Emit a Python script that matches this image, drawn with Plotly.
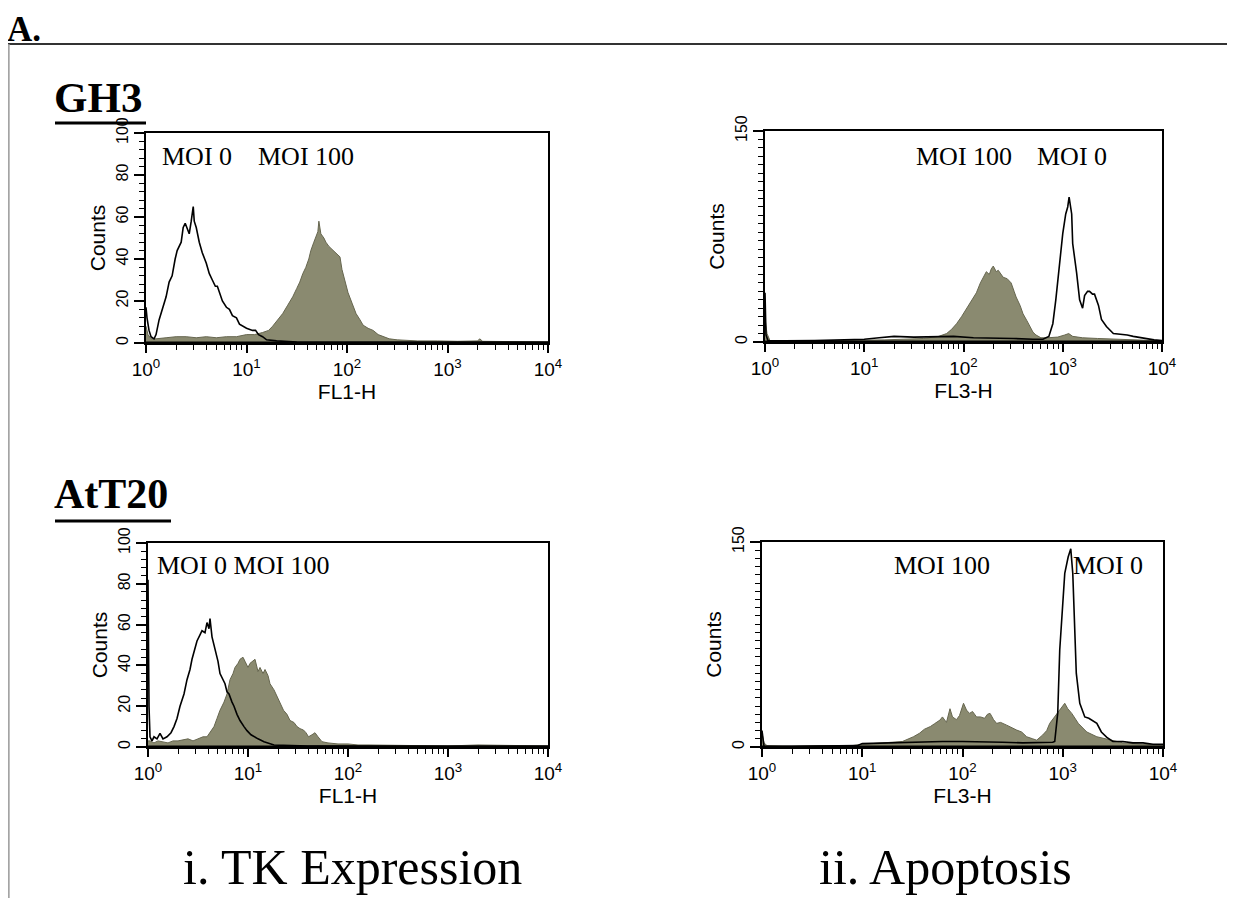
import numpy as np
import plotly.graph_objects as go

W, H = 1235, 898
OFF = 8  # page body margin of the browser

# ---------------- data (log10 fluorescence positions, counts) ----------------
# GH3 - TK expression (FL1-H)
gh3_tk_moi0_log = [0.00, 0.01, 0.03, 0.05, 0.08, 0.10, 0.13, 0.16, 0.20, 0.23, 0.26, 0.29, 0.31, 0.35, 0.37, 0.39, 0.41, 0.43, 0.45, 0.47, 0.48, 0.50, 0.53, 0.56, 0.60, 0.63, 0.66, 0.69, 0.71, 0.74, 0.76, 0.80, 0.83, 0.86, 0.90, 0.93, 0.96, 1.00, 1.06, 1.09, 1.12, 1.16, 1.20, 1.30, 1.50, 1.80, 2.20, 2.60, 3.00, 3.40, 3.80, 4.00]
gh3_tk_moi0_cnt = [17, 12, 6, 3, 2, 4, 11, 16, 22, 29, 32, 40, 44, 48, 55, 57, 54, 52, 58, 65, 58, 55, 48, 43, 38, 33, 30, 27, 27, 23, 20, 17, 16, 13, 12, 9, 8, 7, 6, 6, 4, 3, 1.5, 1, 0.5, 0.5, 0.3, 0.3, 0.3, 0.3, 0.3, 0.3]
gh3_tk_moi100_log = [0.00, 0.02, 0.05, 0.10, 0.20, 0.30, 0.40, 0.50, 0.60, 0.70, 0.80, 0.90, 1.00, 1.08, 1.16, 1.22, 1.26, 1.31, 1.36, 1.41, 1.46, 1.50, 1.53, 1.56, 1.59, 1.62, 1.64, 1.67, 1.69, 1.71, 1.72, 1.74, 1.77, 1.79, 1.82, 1.86, 1.89, 1.93, 1.95, 1.98, 2.01, 2.05, 2.09, 2.13, 2.16, 2.21, 2.26, 2.31, 2.36, 2.42, 2.50, 2.70, 2.90, 3.10, 3.30, 3.32, 3.35, 3.50, 3.70, 3.90, 4.00]
gh3_tk_moi100_cnt = [8, 4, 2, 2, 2.5, 3, 3, 2.5, 3, 2.5, 3, 3, 4, 4, 5, 6, 8, 11, 14, 18, 22, 26, 29, 33, 36, 40, 44, 48, 51, 53, 58, 52, 50, 48, 46, 44, 43, 41, 35, 30, 24, 19, 14, 11, 8.5, 7, 6, 4, 3, 2, 1.5, 1, 1, 0.8, 1, 2, 0.8, 0.8, 0.6, 0.6, 0.5]

# GH3 - Apoptosis (FL3-H)
gh3_ap_moi0_log = [0.00, 0.01, 0.03, 0.20, 0.50, 0.80, 1.00, 1.15, 1.30, 1.50, 1.70, 1.90, 2.10, 2.30, 2.50, 2.70, 2.80, 2.86, 2.90, 2.93, 2.95, 2.98, 3.00, 3.03, 3.05, 3.064, 3.08, 3.09, 3.10, 3.12, 3.14, 3.17, 3.20, 3.22, 3.25, 3.27, 3.30, 3.32, 3.36, 3.39, 3.44, 3.51, 3.58, 3.65, 3.71, 3.78, 3.85, 3.92, 4.00]
gh3_ap_moi0_cnt = [35, 5, 1, 0.8, 1, 1.5, 2, 3, 4, 3.5, 4, 4, 3, 3, 2.5, 2, 2, 4, 13, 30, 44, 62, 77, 91, 96, 103, 95, 91, 70, 60, 49, 30, 24, 33, 36, 36, 34, 34, 26, 16, 11, 6, 5.5, 5, 4, 3, 2, 1.5, 1]
gh3_ap_moi100_log = [0.00, 0.02, 0.05, 0.30, 0.60, 0.90, 1.20, 1.40, 1.60, 1.75, 1.83, 1.88, 1.93, 1.98, 2.03, 2.08, 2.13, 2.17, 2.20, 2.23, 2.26, 2.28, 2.30, 2.33, 2.35, 2.38, 2.40, 2.44, 2.48, 2.51, 2.53, 2.57, 2.60, 2.64, 2.67, 2.70, 2.73, 2.78, 2.85, 2.95, 3.02, 3.06, 3.10, 3.20, 3.35, 3.50, 3.70, 3.90, 4.00]
gh3_ap_moi100_cnt = [17, 6, 1, 0.5, 1, 1, 1.5, 2, 2.5, 4, 6, 9, 13, 18, 24, 29, 35, 42, 46, 50, 48, 52, 54, 50, 51, 48, 46, 45, 42, 36, 32, 26, 20, 15, 11, 7, 5, 3, 3, 3.5, 5, 6, 4, 3, 2.5, 2, 1.5, 1, 0.8]

# AtT20 - TK expression (FL1-H)
att_tk_moi0_log = [0.00, 0.01, 0.02, 0.04, 0.06, 0.09, 0.12, 0.15, 0.19, 0.23, 0.26, 0.29, 0.32, 0.36, 0.39, 0.42, 0.44, 0.47, 0.49, 0.52, 0.54, 0.57, 0.59, 0.61, 0.62, 0.64, 0.66, 0.67, 0.70, 0.72, 0.75, 0.77, 0.79, 0.81, 0.84, 0.86, 0.89, 0.92, 0.96, 0.99, 1.03, 1.06, 1.10, 1.16, 1.22, 1.26, 1.35, 1.60, 2.00, 2.50, 3.00, 3.50, 4.00]
att_tk_moi0_cnt = [82, 20, 5, 3, 5, 4, 6.7, 4, 5, 7, 10, 14, 20, 26, 33, 38, 43, 48, 52, 55, 57, 56, 61, 58, 63, 54, 50, 47.5, 42, 36, 33, 31, 27, 26, 22, 20, 16, 13, 10, 8, 6, 5, 4, 2.6, 1.5, 1, 0.8, 0.5, 0.5, 0.3, 0.3, 0.3, 0.3]
att_tk_moi100_log = [0.00, 0.02, 0.06, 0.10, 0.15, 0.20, 0.25, 0.30, 0.35, 0.40, 0.45, 0.50, 0.55, 0.59, 0.63, 0.66, 0.69, 0.72, 0.76, 0.79, 0.82, 0.85, 0.87, 0.90, 0.92, 0.95, 0.97, 1.00, 1.02, 1.05, 1.07, 1.10, 1.12, 1.15, 1.17, 1.20, 1.22, 1.26, 1.29, 1.32, 1.355, 1.39, 1.42, 1.46, 1.49, 1.52, 1.555, 1.58, 1.605, 1.64, 1.67, 1.70, 1.74, 1.80, 1.90, 2.00, 2.10, 2.20, 2.50, 3.00, 3.30, 3.50, 3.70, 4.00]
att_tk_moi100_cnt = [3, 3, 2, 3, 2.5, 2, 3, 3, 3.5, 4, 3, 4, 5, 5, 8, 10, 14, 18, 22, 26, 33, 36, 39, 41, 43, 44, 42, 39, 41, 42, 43, 37, 39, 36, 38, 35, 31, 28, 25, 22, 18, 16, 13, 12, 10, 9, 8.3, 7, 5, 6, 7, 5, 2.6, 2, 1.5, 1.5, 1, 1, 0.7, 0.5, 1, 0.8, 0.5, 0.5]

# AtT20 - Apoptosis (FL3-H)
att_ap_moi0_log = [0.00, 0.01, 0.02, 0.20, 0.50, 0.80, 0.95, 1.00, 1.20, 1.40, 1.60, 1.80, 2.00, 2.20, 2.40, 2.60, 2.80, 2.90, 2.92, 2.95, 2.97, 3.00, 3.02, 3.054, 3.08, 3.10, 3.12, 3.135, 3.17, 3.22, 3.26, 3.29, 3.34, 3.385, 3.44, 3.50, 3.60, 3.70, 3.80, 3.90, 4.00]
att_ap_moi0_cnt = [12, 3, 0.5, 0.3, 0.5, 0.5, 1, 2.5, 3, 3.5, 4, 4, 4, 4, 3.5, 3, 3, 3.5, 4, 25, 71, 103, 127, 139, 145, 127, 90, 54, 32, 22, 21, 19.7, 17.3, 11, 7, 4, 4, 3, 3, 2, 2]
att_ap_moi100_log = [0.00, 0.02, 0.05, 0.30, 0.60, 0.90, 1.00, 1.10, 1.20, 1.30, 1.40, 1.51, 1.57, 1.62, 1.68, 1.72, 1.775, 1.80, 1.84, 1.875, 1.90, 1.94, 1.97, 2.01, 2.04, 2.07, 2.10, 2.14, 2.18, 2.22, 2.25, 2.275, 2.31, 2.34, 2.38, 2.44, 2.49, 2.54, 2.59, 2.64, 2.70, 2.74, 2.80, 2.84, 2.87, 2.94, 2.98, 3.02, 3.05, 3.09, 3.155, 3.20, 3.24, 3.34, 3.47, 3.60, 3.80, 4.00]
att_ap_moi100_cnt = [10, 3, 1, 0.5, 1, 1, 2, 2.5, 3, 3.5, 4, 7.5, 10, 13, 15, 17, 19.7, 22, 18, 28, 22, 20, 23, 32, 27, 24.6, 26, 22, 22, 21, 24, 24.6, 20, 17.3, 18, 16, 14, 12.4, 11, 7.5, 6, 5, 8.8, 12, 17.3, 24.6, 28, 32, 28, 24.6, 17.3, 14, 11, 7.5, 5, 3, 2, 1.5]

x_tick_text = ["10<sup>0</sup>", "10<sup>1</sup>", "10<sup>2</sup>", "10<sup>3</sup>", "10<sup>4</sup>"]

# ---------------- layout helpers (screen pixels -> paper fractions) ----------------
def px(x):
    return (x - OFF) / W

def py(y):
    return 1 - (y - OFF) / H

FILL = "#8a8a70"
FILL_EDGE = "#66664f"
SANS = "Liberation Sans, Arial"
SERIF = "Liberation Serif, Times New Roman"

panels = [
    dict(x0=146, x1=548, yt=133, yb=343, ymax=100, xtitle="FL1-H",
         fill=(gh3_tk_moi100_log, gh3_tk_moi100_cnt), line=(gh3_tk_moi0_log, gh3_tk_moi0_cnt)),
    dict(x0=765, x1=1162, yt=131, yb=342, ymax=150, xtitle="FL3-H",
         fill=(gh3_ap_moi100_log, gh3_ap_moi100_cnt), line=(gh3_ap_moi0_log, gh3_ap_moi0_cnt)),
    dict(x0=148, x1=548, yt=543, yb=747, ymax=100, xtitle="FL1-H",
         fill=(att_tk_moi100_log, att_tk_moi100_cnt), line=(att_tk_moi0_log, att_tk_moi0_cnt)),
    dict(x0=762, x1=1163, yt=542, yb=747, ymax=150, xtitle="FL3-H",
         fill=(att_ap_moi100_log, att_ap_moi100_cnt), line=(att_ap_moi0_log, att_ap_moi0_cnt)),
]

fig = go.Figure()
layout = dict(
    width=W, height=H, autosize=False,
    margin=dict(l=0, r=0, t=0, b=0, pad=0, autoexpand=False),
    paper_bgcolor="white", plot_bgcolor="white", showlegend=False,
    template="none",
)

minor_x = [np.log10(k * 10 ** d) for d in range(4) for k in range(2, 10)]

for i, p in enumerate(panels):
    n = "" if i == 0 else str(i + 1)
    xa, ya = "x" + n, "y" + n
    fx, fy = p["fill"]
    lx, ly = p["line"]
    fig.add_trace(go.Scatter(x=fx, y=fy, xaxis=xa, yaxis=ya, mode="lines",
                             fill="tozeroy", fillcolor=FILL,
                             line=dict(color=FILL_EDGE, width=1), hoverinfo="skip"))
    fig.add_trace(go.Scatter(x=lx, y=ly, xaxis=xa, yaxis=ya, mode="lines",
                             line=dict(color="black", width=1.6), hoverinfo="skip"))

    if p["ymax"] == 100:
        ytv = [0, 20, 40, 60, 80, 100]
        ytt = ["0", "20", "40", "60", "80", "100"]
        ydt = 4
    else:
        ytv = [0, 150]
        ytt = ["0", "150"]
        ydt = 6

    layout["xaxis" + n] = dict(
        domain=[px(p["x0"]), px(p["x1"])], anchor=ya, range=[0, 4], automargin=False,
        tickmode="array", tickvals=[0, 1, 2, 3, 4], ticktext=x_tick_text, ticks="outside", ticklen=8,
        tickwidth=1.5, tickcolor="black",
        minor=dict(tickmode="array", tickvals=minor_x, ticks="outside", ticklen=5, tickwidth=1.2, tickcolor="black"),
        showline=True, linecolor="black", linewidth=1.5, mirror=True,
        showgrid=False, zeroline=False,
        tickfont=dict(family=SANS, size=19, color="black"),
        title=dict(text=p["xtitle"], font=dict(family=SANS, size=21, color="black"), standoff=4),
    )
    layout["yaxis" + n] = dict(
        domain=[py(p["yb"]), py(p["yt"])], anchor=xa, range=[0, p["ymax"]], automargin=False,
        tickmode="array", tickvals=ytv, ticktext=ytt, ticks="outside", ticklen=10, tickwidth=1.5, tickcolor="black",
        minor=dict(dtick=ydt, ticks="outside", ticklen=5, tickwidth=1.2, tickcolor="black"),
        tickangle=-90,
        showline=True, linecolor="black", linewidth=1.5, mirror=True,
        showgrid=False, zeroline=False,
        tickfont=dict(family=SANS, size=16, color="black"),
        title=dict(text="Counts", font=dict(family=SANS, size=21, color="black"), standoff=2),
    )

fig.update_layout(**layout)

shapes = []
for i, p in enumerate(panels):
    n = "" if i == 0 else str(i + 1)
    shapes.append(dict(type="line", xref="x" + n + " domain", yref="y" + n, x0=0, x1=1, y0=0, y1=0,
                       line=dict(color="black", width=3)))
shapes.append(dict(type="line", xref="paper", yref="paper", x0=0, x1=1, y0=py(44), y1=py(44),
                   line=dict(color="#333333", width=2)))
shapes.append(dict(type="line", xref="paper", yref="paper", x0=0.0007, x1=0.0007, y0=py(44), y1=0,
                   line=dict(color="#999999", width=1.5)))
shapes.append(dict(type="line", xref="paper", yref="paper", x0=px(55), x1=px(146), y0=py(123), y1=py(123),
                   line=dict(color="black", width=3)))
shapes.append(dict(type="line", xref="paper", yref="paper", x0=px(55), x1=px(171), y0=py(521), y1=py(521),
                   line=dict(color="black", width=3)))
fig.update_layout(shapes=shapes)

ann = []
def txt(t, x, y, size, bold=False, xanchor="left", yanchor="middle", yshift=0):
    ann.append(dict(text=("<b>%s</b>" % t) if bold else t, x=px(x), y=py(y), xref="paper", yref="paper",
                    showarrow=False, xanchor=xanchor, yanchor=yanchor, yshift=yshift,
                    font=dict(family=SERIF, size=size, color="black")))

txt("A.", 5, 8, 35, bold=True, yanchor="top")
txt("GH3", 52, 97, 43, bold=True)
txt("AtT20", 52, 494, 42, bold=True)
txt("MOI 0", 160, 157, 26)
txt("MOI 100", 256, 157, 26)
txt("MOI 100", 914, 157, 26)
txt("MOI 0", 1035, 157, 26)
txt("MOI 0 MOI 100", 155, 565, 26)
txt("MOI 100", 892, 565, 26)
txt("MOI 0", 1071, 565, 26)
txt("i. TK Expression", 352, 867, 50, xanchor="center")
txt("ii. Apoptosis", 945, 867, 50, xanchor="center")
fig.update_layout(annotations=ann)

fig.write_html("out.html")
